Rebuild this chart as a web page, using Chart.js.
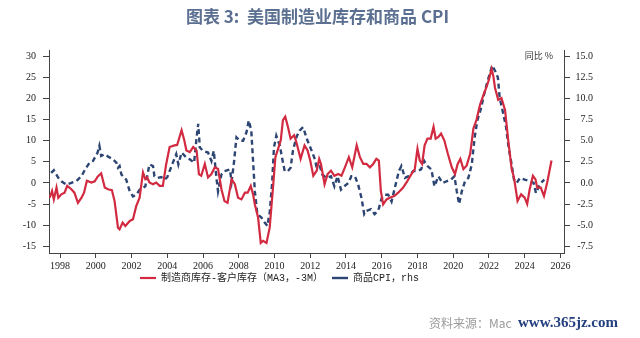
<!DOCTYPE html>
<html>
<head>
<meta charset="utf-8">
<script src="https://cdn.jsdelivr.net/npm/chart.js@4.4.1/dist/chart.umd.min.js"></script>
<style>
html, body { margin: 0; padding: 0; background: #fff; }
</style>
</head>
<body>
<canvas id="myChart" width="640" height="338"></canvas>
<script>
"use strict";

// tick labels
var yearTicks = [1998, 2000, 2002, 2004, 2006, 2008, 2010, 2012, 2014, 2016, 2018, 2020, 2022, 2024, 2026];
var leftTicks = [-15, -10, -5, 0, 5, 10, 15, 20, 25, 30];
var rightTicks = [-7.5, -5, -2.5, 0, 2.5, 5, 7.5, 10, 12.5, 15];

// 制造商库存-客户库存 (MA3, -3M), left axis
var invDates = [1997.42, 1997.55, 1997.65, 1997.8, 1997.9, 1998.07, 1998.25, 1998.4, 1998.63, 1998.8,
	1999.0, 1999.2, 1999.34, 1999.5, 1999.75, 1999.94, 2000.1, 2000.3, 2000.5, 2000.68,
	2000.9, 2001.05, 2001.24, 2001.33, 2001.5, 2001.65, 2001.9, 2002.08, 2002.26, 2002.45,
	2002.64, 2002.77, 2002.88, 2003.0, 2003.2, 2003.38, 2003.57, 2003.75, 2003.94, 2004.13,
	2004.4, 2004.55, 2004.8, 2004.95, 2005.07, 2005.26, 2005.45, 2005.64, 2005.77, 2005.9,
	2006.1, 2006.28, 2006.47, 2006.66, 2006.84, 2007.03, 2007.2, 2007.37, 2007.6, 2007.78,
	2007.96, 2008.15, 2008.34, 2008.5, 2008.67, 2008.8, 2008.9, 2009.08, 2009.23, 2009.36,
	2009.55, 2009.73, 2009.9, 2010.05, 2010.23, 2010.35, 2010.47, 2010.6, 2010.75, 2010.9,
	2011.1, 2011.22, 2011.46, 2011.68, 2011.85, 2012.0, 2012.17, 2012.36, 2012.5, 2012.6,
	2012.8, 2012.97, 2013.16, 2013.35, 2013.57, 2013.75, 2013.94, 2014.16, 2014.35, 2014.6,
	2014.78, 2014.97, 2015.15, 2015.34, 2015.52, 2015.7, 2015.84, 2015.95, 2016.08, 2016.27,
	2016.45, 2016.7, 2016.92, 2017.2, 2017.44, 2017.66, 2017.85, 2018.0, 2018.13, 2018.26,
	2018.4, 2018.56, 2018.74, 2018.9, 2019.02, 2019.17, 2019.32, 2019.5, 2019.7, 2019.92,
	2020.1, 2020.25, 2020.4, 2020.57, 2020.75, 2020.95, 2021.13, 2021.3, 2021.5, 2021.7,
	2021.87, 2022.0, 2022.15, 2022.25, 2022.34, 2022.52, 2022.7, 2022.9, 2023.08, 2023.27,
	2023.4, 2023.6, 2023.8, 2024.0, 2024.14, 2024.28, 2024.46, 2024.6, 2024.7, 2024.9,
	2025.08, 2025.26, 2025.5];
var invValues = [-3.5, -1.9, -3.9, -1.1, -3.5, -2.7, -2.3, -0.7, -1.5, -2.3,
	-4.7, -3.5, -2.3, 0.5, 0.1, 0.4, 1.5, 2.3, -1.1, -1.5,
	-1.7, -4.3, -10.6, -11.0, -9.4, -10.2, -9.0, -8.6, -5.5, -3.5,
	2.5, 0.9, 1.3, 0.1, -0.3, 0.1, -0.7, -0.7, 4.5, 8.5,
	8.9, 9.0, 12.5, 10.1, 7.7, 7.3, 8.5, 7.7, 2.1, 1.7,
	4.5, 1.3, 2.1, 3.7, 3.3, -1.5, -4.3, -4.7, 0.9, -0.3,
	-3.5, -3.9, -2.3, -2.3, -0.7, -2.7, -5.1, -8.2, -14.2, -13.7,
	-14.2, -10.6, -1.9, 6.1, 8.5, 10.1, 14.9, 15.7, 13.3, 10.5,
	11.3, 9.7, 5.7, 8.9, 7.7, 5.3, 1.7, 2.9, 5.7, 4.5,
	-0.3, 2.1, 2.9, 1.7, 2.1, 1.7, 3.7, 6.1, 3.7, 8.9,
	6.1, 4.5, 4.5, 3.7, 4.5, 5.7, 5.3, -1.9, -5.1, -3.9,
	-3.5, -3.1, -2.3, -1.1, 0.5, 2.1, 3.3, 8.1, 5.3, 4.5,
	8.9, 10.5, 10.5, 13.3, 10.5, 10.9, 11.7, 10.1, 6.9, 3.7,
	2.1, 4.5, 5.7, 3.3, 4.1, 6.9, 12.9, 14.9, 18.5, 20.9,
	22.8, 24.5, 27.0, 25.2, 22.5, 19.7, 20.1, 17.3, 10.1, 3.3,
	1.3, -4.3, -2.7, -3.5, -5.0, -1.5, 1.7, 0.9, -1.1, -1.1,
	-3.1, 0.1, 5.3];

// 商品CPI, rhs
var cpiDates = [1997.5, 1997.65, 1997.9, 1998.07, 1998.35, 1998.63, 1998.9, 1999.2, 1999.4, 1999.65,
	1999.84, 2000.1, 2000.2, 2000.3, 2000.5, 2000.7, 2000.96, 2001.15, 2001.24, 2001.33,
	2001.43, 2001.7, 2001.9, 2002.08, 2002.26, 2002.45, 2002.64, 2002.77, 2003.0, 2003.2,
	2003.28, 2003.47, 2003.66, 2003.85, 2004.0, 2004.2, 2004.5, 2004.62, 2004.8, 2005.07,
	2005.26, 2005.5, 2005.64, 2005.73, 2005.82, 2006.0, 2006.28, 2006.47, 2006.6, 2006.75,
	2006.84, 2007.03, 2007.2, 2007.5, 2007.6, 2007.74, 2007.87, 2008.05, 2008.24, 2008.43,
	2008.56, 2008.7, 2008.8, 2008.9, 2009.04, 2009.27, 2009.45, 2009.6, 2009.73, 2009.86,
	2009.97, 2010.1, 2010.3, 2010.42, 2010.57, 2010.75, 2010.9, 2011.03, 2011.22, 2011.4,
	2011.6, 2011.85, 2012.08, 2012.26, 2012.36, 2012.54, 2012.67, 2012.9, 2013.16, 2013.35,
	2013.53, 2013.72, 2013.9, 2014.13, 2014.3, 2014.5, 2014.68, 2014.87, 2015.02, 2015.15,
	2015.4, 2015.6, 2015.8, 2016.0, 2016.17, 2016.36, 2016.55, 2016.73, 2016.96, 2017.1,
	2017.3, 2017.5, 2017.76, 2018.0, 2018.2, 2018.38, 2018.56, 2018.78, 2018.95, 2019.17,
	2019.4, 2019.63, 2019.88, 2020.07, 2020.2, 2020.33, 2020.48, 2020.66, 2020.85, 2021.04,
	2021.2, 2021.35, 2021.55, 2021.73, 2021.9, 2022.04, 2022.18, 2022.34, 2022.5, 2022.6,
	2022.77, 2022.96, 2023.1, 2023.27, 2023.4, 2023.55, 2023.74, 2024.0, 2024.28, 2024.5,
	2024.63, 2024.8, 2025.0, 2025.1];
var cpiValues = [1.2, 1.5, 0.6, 0.2, -0.2, 0.0, 0.2, 0.8, 1.6, 2.4,
	2.6, 3.6, 4.4, 3.2, 3.4, 3.1, 2.8, 2.4, 1.8, 2.0,
	1.0, 0.4, -1.0, -1.6, -1.4, -0.8, -0.6, -0.4, 2.2, 2.0,
	0.8, 0.6, 0.7, 0.4, 0.7, 1.8, 3.4, 2.2, 3.6, 3.0,
	2.8, 2.4, 5.4, 7.0, 4.2, 3.8, 3.6, 2.6, 3.8, 0.6,
	-1.0, 1.0, 1.4, 1.6, 0.2, 2.6, 5.4, 5.0, 5.0, 6.0,
	7.4, 6.2, 2.6, -1.0, -3.7, -4.1, -4.7, -5.1, -3.5, -0.2,
	4.2, 5.6, 4.4, 3.0, 1.4, 1.4, 1.8, 3.8, 5.4, 6.2,
	6.6, 5.0, 3.8, 2.8, 1.8, 2.0, 1.0, 0.6, 0.8, -0.4,
	0.8, -0.8, -0.4, 0.0, 0.8, 0.8, -0.2, -1.8, -3.7, -3.3,
	-3.1, -3.7, -3.3, -1.8, -1.4, -1.4, -2.2, -0.6, 1.4, 2.0,
	0.6, 0.8, 1.4, 1.4, 1.6, 2.6, 2.0, 1.6, -0.4, 0.8,
	0.0, 0.2, 0.4, 0.8, -1.0, -2.5, -1.0, 0.2, 0.6, 2.2,
	5.4, 7.4, 8.8, 10.5, 11.9, 12.9, 13.9, 13.3, 12.5, 10.1,
	8.5, 6.6, 4.2, 2.2, 0.4, 0.0, 0.6, 0.4, 0.2, 0.0,
	-1.2, -0.4, 0.2, 0.4];

function toPoints(xs, ys) {
	var pts = [];
	for (var i = 0; i < xs.length; i = i + 1) {
		pts.push({x: xs[i], y: ys[i]});
	}
	return pts;
}

function setTicks(values) {
	return function (scale) {
		scale.ticks = values.map(function (v) { return {value: v}; });
	};
}

var tickFont = {family: "'Liberation Serif', serif", size: 10};
var axisColor = "#444";

// extra texts, and nudge title/legend to where the original has them
var extras = {
	id: "extras",
	afterLayout: function (chart) {
		var lg = chart.legend;
		var w = lg.right - lg.left;
		var h = lg.bottom - lg.top;
		lg.left = 131;
		lg.right = 131 + w;
		lg.top = 264;
		lg.bottom = 264 + h;
		var tb = chart.titleBlock;
		tb.left = -5;
		tb.right = 640;
	},
	afterDraw: function (chart) {
		var ctx = chart.ctx;
		var area = chart.chartArea;
		ctx.save();
		ctx.textBaseline = "middle";
		ctx.fillStyle = "#333";
		ctx.textAlign = "right";
		ctx.font = "9px 'Noto Sans CJK SC'";
		ctx.fillText("同比 %", area.right - 11, area.top + 6);

		ctx.textAlign = "left";
		ctx.fillStyle = "#9a9a9a";
		ctx.font = "12px 'Noto Sans CJK SC'";
		ctx.fillText("资料来源：Mac", 429, 323);
		ctx.fillStyle = "#233f7e";
		ctx.font = "bold 15px 'Liberation Serif'";
		ctx.fillText("www.365jz.com", 518, 323);
		ctx.restore();
	}
};

function buildChart() {
	var ctx = document.getElementById("myChart");
	var myChart = new Chart(ctx, {
		type: "line",
		data: {
			datasets: [
				{
					label: "制造商库存-客户库存（MA3，-3M）",
					data: toPoints(invDates, invValues),
					yAxisID: "y",
					borderColor: "#d22a40",
					backgroundColor: "#d22a40",
					borderWidth: 2.2,
					pointRadius: 0,
					fill: false
				},
				{
					label: "商品CPI，rhs",
					data: toPoints(cpiDates, cpiValues),
					yAxisID: "y1",
					borderColor: "#2c4573",
					backgroundColor: "#2c4573",
					borderWidth: 2.4,
					borderDash: [5, 3.5],
					pointRadius: 0,
					fill: false
				}
			]
		},
		options: {
			responsive: false,
			animation: false,
			devicePixelRatio: 1,
			layout: {padding: {top: 0, left: 0, right: 47, bottom: 36}},
			scales: {
				x: {
					type: "linear",
					min: 1997.38,
					max: 2026.2,
					afterBuildTicks: setTicks(yearTicks),
					afterFit: function (s) { s.height = 20; },
					ticks: {
						font: tickFont, color: "#222", padding: 2,
						maxRotation: 0, autoSkip: false,
						callback: function (v) { return String(v); }
					},
					grid: {drawOnChartArea: false, tickLength: 5, color: axisColor},
					border: {color: axisColor, width: 1}
				},
				y: {
					position: "left",
					min: -16.6,
					max: 31.5,
					afterBuildTicks: setTicks(leftTicks),
					afterFit: function (s) { s.width = 49; },
					ticks: {font: tickFont, color: "#222", padding: 7},
					grid: {drawOnChartArea: false, tickLength: 6, color: axisColor},
					border: {color: axisColor, width: 1}
				},
				y1: {
					position: "right",
					min: -8.3,
					max: 15.75,
					afterBuildTicks: setTicks(rightTicks),
					afterFit: function (s) { s.width = 29; },
					ticks: {
						font: tickFont, color: "#222", padding: 6, crossAlign: "far",
						callback: function (v) { return v.toFixed(1); }
					},
					grid: {drawOnChartArea: false, tickLength: 6, color: axisColor},
					border: {color: axisColor, width: 1}
				}
			},
			plugins: {
				title: {
					display: true,
					text: "图表 3:  美国制造业库存和商品 CPI",
					color: "#5b6f90",
					font: {family: "'Noto Sans CJK SC'", size: 17, weight: "bold"},
					padding: {top: 6, bottom: 23.6}
				},
				legend: {
					position: "bottom",
					align: "start",
					labels: {
						usePointStyle: true,
						pointStyle: "line",
						pointStyleWidth: 16,
						padding: 9,
						color: "#222",
						font: {family: "'Liberation Mono', 'Noto Sans CJK SC'", size: 10}
					}
				},
				tooltip: {enabled: false}
			}
		},
		plugins: [extras]
	});
}

buildChart();
</script>
</body>
</html>
